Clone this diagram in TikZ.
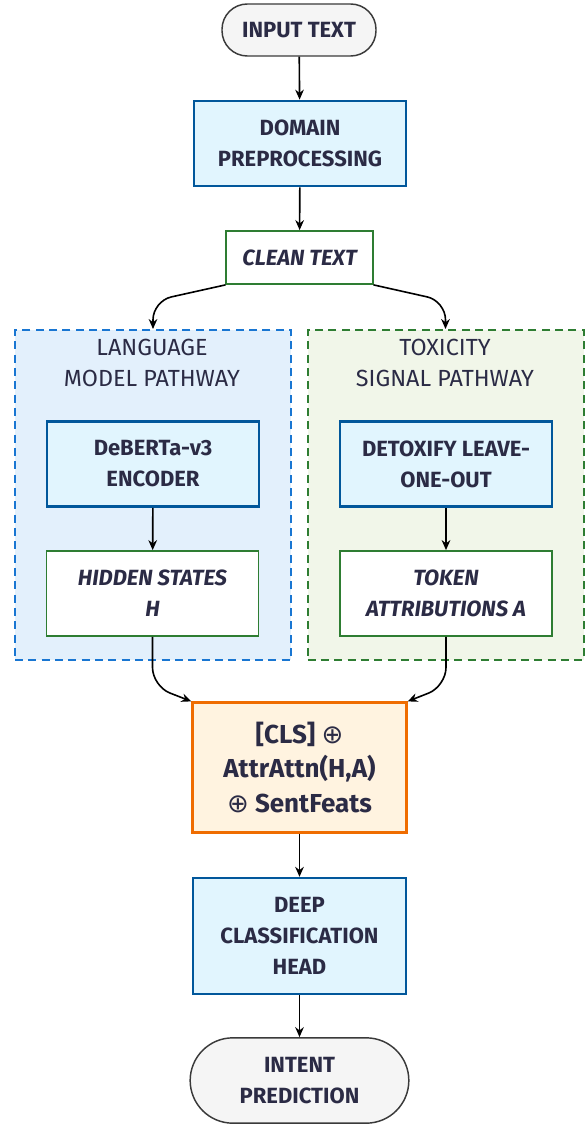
\documentclass[tikz,border=0pt]{standalone}
\usepackage{fontspec}
\setmainfont{Fira Sans}
\newfontfamily\oplusfont{DejaVu Sans}
\usepackage{xcolor}
\usetikzlibrary{shapes.geometric,arrows.meta,positioning,calc}

\definecolor{inktext}{HTML}{2B2B45}
\definecolor{procfill}{HTML}{E1F5FE}
\definecolor{procline}{HTML}{01579B}
\definecolor{dataline}{HTML}{2E7D32}
\definecolor{fusefill}{HTML}{FFF3E0}
\definecolor{fuseline}{HTML}{EF6C00}
\definecolor{pillfill}{HTML}{F5F5F5}
\definecolor{pillline}{HTML}{3A3A3A}
\definecolor{lmfill}{HTML}{E3F0FC}
\definecolor{lmline}{HTML}{1976D2}
\definecolor{toxfill}{HTML}{F1F6E9}

\newcommand{\oplussym}{{\oplusfont\mdseries ⊕}}

\begin{document}
\begin{tikzpicture}[
  x=0.75pt, y=-0.75pt,
  every node/.style={text=inktext, font=\fontsize{16.5}{23.2}\selectfont, align=center},
  pill/.style={rectangle, rounded corners=19pt, draw=pillline, line width=1.1pt, fill=pillfill, font=\fontsize{16.5}{23.2}\selectfont\bfseries},
  proc/.style={rectangle, draw=procline, line width=1.8pt, fill=procfill, minimum width=159pt, minimum height=64pt, font=\fontsize{16.5}{23.2}\selectfont\bfseries},
  datum/.style={rectangle, draw=dataline, line width=1.1pt, fill=white, minimum width=159pt, minimum height=64pt, font=\fontsize{16.5}{23.2}\selectfont\bfseries\itshape},
  fuse/.style={rectangle, draw=fuseline, line width=2.2pt, fill=fusefill, minimum width=160pt, minimum height=97pt, font=\fontsize{19.5}{26.2}\selectfont\bfseries},
  group/.style={rectangle, dashed, dash pattern=on 6pt off 4pt, line width=1.5pt, minimum width=207pt, minimum height=247.5pt},
  arrow/.style={-{Stealth[length=7.5pt, width=6.5pt]}, line width=1.2pt, black},
]
  \useasboundingbox (0,0) rectangle (587,1124);

  % Input and preprocessing
  \node[pill, minimum width=115.5pt, minimum height=39pt] at (299,30) (input) {INPUT TEXT};
  \node[proc] at (300,143.5) (prep) {DOMAIN\\PREPROCESSING};
  \node[datum, minimum width=110pt, minimum height=40pt] at (299.5,257.5) (clean) {CLEAN TEXT};

  % Language model pathway
  \node[group, draw=lmline, fill=lmfill] at (153,495) (lmpath) {};
  \node[font=\fontsize{17.5}{23.5}\selectfont] at (152,363) (lmtitle) {LANGUAGE\\MODEL PATHWAY};
  \node[proc] at (153,464) (deberta) {DeBERTa-v3\\ENCODER};
  \node[datum] at (152.5,593.5) (hidden) {HIDDEN STATES\\H};

  % Toxicity signal pathway
  \node[group, draw=dataline, fill=toxfill] at (445.5,495) (toxpath) {};
  \node[font=\fontsize{17.5}{23.5}\selectfont] at (445,363) (toxtitle) {TOXICITY\\SIGNAL PATHWAY};
  \node[proc] at (446,464) (detox) {DETOXIFY LEAVE-\\ONE-OUT};
  \node[datum] at (446,593.5) (attrib) {TOKEN\\ATTRIBUTIONS A};

  % Fusion and head
  \node[fuse] at (299.5,767.5) (fusion) {[CLS] \oplussym\\AttrAttn(H,A)\\ \oplussym\ SentFeats};
  \node[proc, minimum width=160pt, minimum height=87pt] at (299.5,936) (head) {DEEP\\CLASSIFICATION\\HEAD};
  \node[pill, rounded corners=32pt, minimum width=164pt, minimum height=64pt] at (299.5,1080.5) (intent) {INTENT\\PREDICTION};

  % Arrows
  \draw[arrow] (input) -- (prep);
  \draw[arrow] (prep) -- (clean);
  \draw[arrow, rounded corners=14pt] (clean.south west) -- ([yshift=21pt]lmpath.north) -- (lmpath.north);
  \draw[arrow, rounded corners=14pt] (clean.south east) -- ([yshift=21pt]toxpath.north) -- (toxpath.north);
  \draw[arrow] (deberta) -- (hidden);
  \draw[arrow] (detox) -- (attrib);
  \draw[arrow, rounded corners=14pt] (hidden.south) -- ([yshift=-37pt]hidden.south) -- (fusion.north west);
  \draw[arrow, rounded corners=14pt] (attrib.south) -- ([yshift=-37pt]attrib.south) -- (fusion.north east);
  \draw[arrow] (fusion) -- (head);
  \draw[arrow] (head) -- (intent);
\end{tikzpicture}
\end{document}
